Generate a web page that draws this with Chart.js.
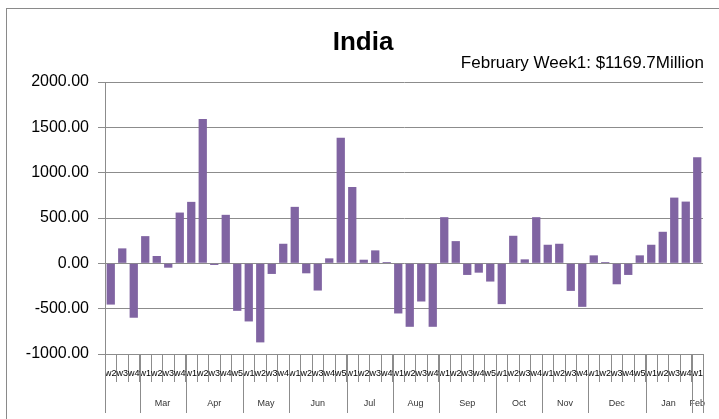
<!DOCTYPE html>
<html>
<head>
<meta charset="utf-8">
<script src="https://cdn.jsdelivr.net/npm/chart.js@4.4.1/dist/chart.umd.min.js"></script>
<style>
  html, body { margin: 0; padding: 0; background: #fff; }
  #wrap { width: 719px; height: 419px; position: relative; }
</style>
</head>
<body>
<div id="wrap"><canvas id="c" width="719" height="419"></canvas></div>
<script>
// ---- data ----
const chartTitle = 'India';
const chartSubtitle = 'February Week1: $1169.7Million';

const weekLabels = [
  'w2','w3','w4',
  'w1','w2','w3','w4',
  'w1','w2','w3','w4','w5',
  'w1','w2','w3','w4',
  'w1','w2','w3','w4','w5',
  'w1','w2','w3','w4',
  'w1','w2','w3','w4',
  'w1','w2','w3','w4','w5',
  'w1','w2','w3','w4',
  'w1','w2','w3','w4',
  'w1','w2','w3','w4','w5',
  'w1','w2','w3','w4',
  'w1'
];

const monthNames = ['', 'Mar', 'Apr', 'May', 'Jun', 'Jul', 'Aug', 'Sep', 'Oct', 'Nov', 'Dec', 'Jan', 'Feb'];
const monthWeekCounts = [3, 4, 5, 4, 5, 4, 4, 5, 4, 4, 5, 4, 1];

const values = [
  -455, 165, -600,
  300, 81, -48, 560,
  678, 1593, -18, 535, -524,
  -641, -872, -117, 216,
  623, -110, -300, 55, 1385,
  842, 40, 143, 15,
  -553, -700, -421, -700,
  509, 245, -128, -103, -201,
  -450, 304, 44, 509,
  205, 216, -304, -480,
  88, 15, -231, -128, 88,
  205, 348, 725, 681,
  1169.7
];

const yMin = -1000, yMax = 2000, yStep = 500;

// ---- styling ----
const barColor = '#8064A2';
const gridColor = '#8c8c8c';
const font = 'Liberation Sans';

const decorPlugin = {
  id: 'decor',
  beforeDraw(chart) {
    const ctx = chart.ctx;
    ctx.save();
    ctx.fillStyle = '#fff';
    ctx.fillRect(0, 0, chart.width, chart.height);
    ctx.strokeStyle = '#8a8a8a';
    ctx.lineWidth = 1;
    ctx.strokeRect(6.5, 8.5, 740, 440);
    ctx.restore();
  },
  afterDraw(chart) {
    const ctx = chart.ctx;
    const x = chart.scales.x;
    ctx.save();
    // title + subtitle
    ctx.fillStyle = '#000';
    ctx.font = 'bold 26px "' + font + '"';
    ctx.textAlign = 'center';
    ctx.textBaseline = 'alphabetic';
    ctx.fillText(chartTitle, 363, 50);
    ctx.font = '17px "' + font + '"';
    ctx.textAlign = 'right';
    ctx.fillText(chartSubtitle, 704, 68);

    // month group separators and labels
    const half = (x.getPixelForValue(1) - x.getPixelForValue(0)) / 2;
    const yTop = x.top;
    const yBot = 413;
    ctx.strokeStyle = gridColor;
    ctx.lineWidth = 1;
    let start = 0;
    const bounds = [];
    for (let g = 0; g < monthWeekCounts.length; g++) {
      const end = start + monthWeekCounts[g] - 1;
      const left = x.getPixelForValue(start) - half;
      const right = x.getPixelForValue(end) + half;
      bounds.push(left, right);
      if (monthNames[g]) {
        ctx.fillStyle = '#333';
        ctx.font = '9px "' + font + '"';
        ctx.textAlign = 'center';
        ctx.textBaseline = 'middle';
        ctx.fillText(monthNames[g], (left + right) / 2, 404);
      }
      start = end + 1;
    }
    const uniq = [...new Set(bounds.map(b => Math.round(b)))];
    uniq.forEach(b => {
      ctx.beginPath();
      ctx.moveTo(b + 0.5, yTop);
      ctx.lineTo(b + 0.5, yBot);
      ctx.stroke();
    });
    ctx.restore();
  }
};

new Chart(document.getElementById('c'), {
  type: 'bar',
  data: {
    labels: weekLabels,
    datasets: [{
      data: values,
      backgroundColor: barColor,
      borderWidth: 0,
      barPercentage: 0.72,
      categoryPercentage: 1.0
    }]
  },
  options: {
    responsive: false,
    animation: false,
    devicePixelRatio: 1,
    layout: { padding: { top: 82, right: 16, left: 0, bottom: 0 } },
    plugins: {
      legend: { display: false },
      tooltip: { enabled: false },
      title: { display: false }
    },
    scales: {
      x: {
        offset: true,
        grid: {
          display: true,
          offset: true,
          drawOnChartArea: false,
          drawTicks: true,
          tickLength: 28,
          color: gridColor
        },
        border: { display: true, color: gridColor },
        ticks: {
          autoSkip: false,
          maxRotation: 0,
          minRotation: 0,
          padding: -14,
          color: '#000',
          font: { family: font, size: 9 }
        },
        afterFit(scale) { scale.height = 65; }
      },
      y: {
        min: yMin,
        max: yMax,
        grid: {
          color: gridColor,
          tickLength: 7,
          drawTicks: true
        },
        border: { display: true, color: gridColor },
        ticks: {
          stepSize: yStep,
          padding: 9,
          color: '#000',
          font: { family: font, size: 16 },
          callback: v => Number(v).toFixed(2)
        },
        afterFit(scale) { scale.width = 105; }
      }
    }
  },
  plugins: [decorPlugin]
});
</script>
</body>
</html>
